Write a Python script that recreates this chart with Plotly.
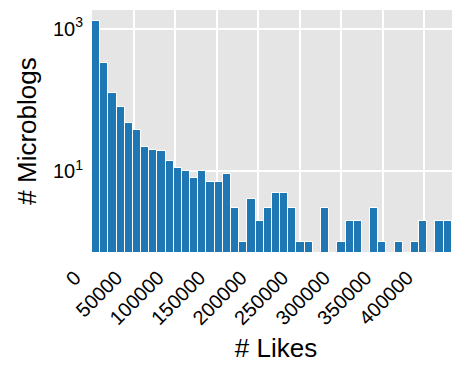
import numpy as np
import plotly.graph_objects as go

# Histogram of likes: 45 equal-width bins from 0 to ~443000
x_min = 0
x_max = 443000
n_bins = 45
counts = [1280, 335, 124, 79, 48, 38, 22, 20, 19, 14,
          11, 10, 8, 10, 7, 7, 9, 3, 1, 4,
          2, 3, 5, 5, 3, 1, 1, 0, 3, 0,
          1, 2, 2, 0, 3, 1, 0, 1, 0, 1,
          2, 0, 2, 2, 2]
x_tick_vals = [0, 50000, 100000, 150000, 200000, 250000, 300000, 350000, 400000]
x_tick_text = ["0", "50000", "100000", "150000", "200000", "250000", "300000", "350000", "400000"]
y_tick_vals = [10, 1000]
y_tick_text = ["10<sup>1</sup>", "10<sup>3</sup>"]

edges = np.linspace(x_min, x_max, n_bins + 1)
centers = (edges[:-1] + edges[1:]) / 2
bw = edges[1] - edges[0]
ys = [c if c > 0 else None for c in counts]

fig = go.Figure(go.Bar(
    x=centers, y=ys, width=bw,
    marker=dict(color="#1f77b4", line=dict(color="white", width=1)),
))

font = "Liberation Sans, Arial, sans-serif"
# page body has an 8px default margin, so the figure is 452x357
fig.update_layout(
    width=452, height=357,
    margin=dict(l=84, r=0, t=2, b=113),
    plot_bgcolor="#E5E5E5", paper_bgcolor="white",
    font=dict(family=font, color="black"),
    showlegend=False, bargap=0,
)
fig.update_xaxes(
    range=[x_min, x_max], tickvals=x_tick_vals, ticktext=x_tick_text,
    tickangle=-45, tickfont=dict(size=20), showgrid=True,
    gridcolor="white", gridwidth=1.5, zeroline=False, ticks="",
    automargin=False, ticklabelstandoff=9, ticklabelshift=-17,
    title=dict(text="# Likes", font=dict(size=26), standoff=10),
)
fig.update_yaxes(
    type="log", range=[-0.137, 3.265], tickvals=y_tick_vals, ticktext=y_tick_text,
    tickfont=dict(size=20), showgrid=True, gridcolor="white", gridwidth=1.5,
    zeroline=False, ticks="", automargin=False, ticklabelstandoff=8,
    title=dict(text="# Microblogs", font=dict(size=26), standoff=8),
)
fig.write_html("out.html")
